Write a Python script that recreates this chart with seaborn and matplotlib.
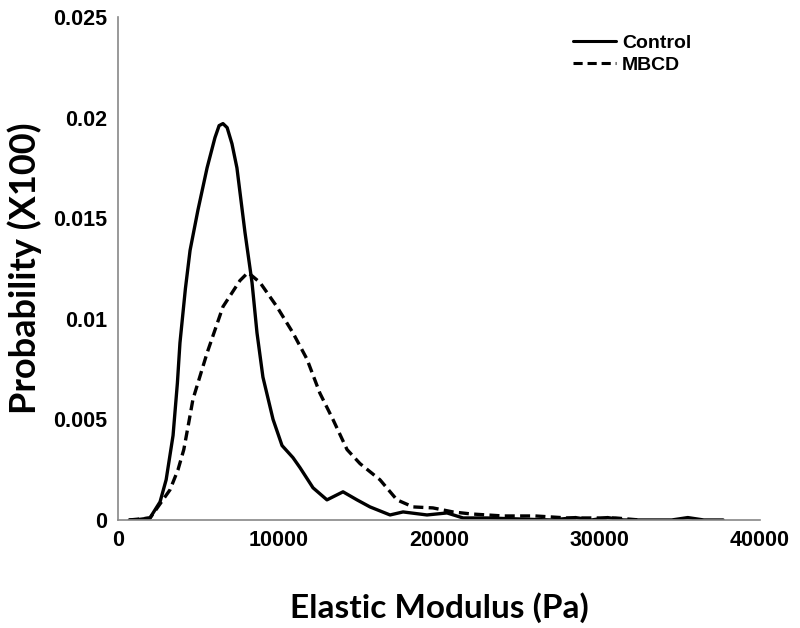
import matplotlib
import matplotlib.pyplot as plt
import pandas as pd
import seaborn as sns
matplotlib.use('Agg')

# Read-off values of the two probability curves
control_x = [700, 1060, 1990, 2620, 3000, 3430, 3700, 3860, 4200, 4490, 4980,
             5550, 6040, 6300, 6540, 6800, 7100, 7410, 7910, 8350, 8660, 9030,
             9660, 10220, 10900, 11340, 12150, 13020, 14020, 14890, 15700,
             16950, 17760, 19250, 20500, 21500, 23000, 25000, 27000, 28500,
             29500, 30500, 31500, 33000, 34500, 35500, 36500, 37700]
control_y = [0.0, 0.0, 0.0001, 0.0009, 0.002, 0.0042, 0.0068, 0.0088, 0.0115,
             0.0134, 0.0154, 0.0175, 0.019, 0.0196, 0.0197, 0.0195, 0.0187,
             0.0175, 0.0143, 0.0118, 0.0093, 0.0071, 0.005, 0.0037, 0.0031,
             0.0026, 0.0016, 0.001, 0.0014, 0.001, 0.00065, 0.00025, 0.0004,
             0.00025, 0.00035, 0.0001, 0.0001, 0.00005, 0.0, 0.00012, 0.0,
             0.00012, 0.0, 0.0, 0.0, 0.00012, 0.0, 0.0]

mbcd_x = [700, 2000, 2620, 3240, 3740, 4100, 4400, 4670, 5550, 6540, 7600,
          8100, 8850, 9900, 10900, 11770, 12580, 13390, 14270, 15080, 16320,
          17380, 18380, 19620, 20870, 22000, 24000, 26000, 28000, 31000, 32500]
mbcd_y = [0.0, 0.0001, 0.0008, 0.0015, 0.0025, 0.0035, 0.0048, 0.006, 0.0083,
          0.0106, 0.0119, 0.0123, 0.0118, 0.0106, 0.0093, 0.008, 0.0063,
          0.005, 0.0035, 0.0028, 0.002, 0.001, 0.00065, 0.0006, 0.0004,
          0.0003, 0.0002, 0.0002, 0.0001, 0.0001, 0.0]

x_ticks = [0, 5000, 10000, 15000, 20000, 25000, 30000, 35000, 40000]
x_tick_labels = ['0', '', '10000', '', '20000', '', '30000', '', '40000']
y_ticks = [0, 0.005, 0.01, 0.015, 0.02, 0.025]
y_tick_labels = ['0', '0.005', '0.01', '0.015', '0.02', '0.025']

df = pd.concat([
    pd.DataFrame({'Modulus': control_x, 'Probability': control_y, 'Group': 'Control'}),
    pd.DataFrame({'Modulus': mbcd_x, 'Probability': mbcd_y, 'Group': 'MBCD'}),
], ignore_index=True)

sns.set_style('white')
plt.rcParams['font.family'] = ['Liberation Sans', 'DejaVu Sans']
plt.rcParams['text.color'] = 'black'
plt.rcParams['axes.labelcolor'] = 'black'
plt.rcParams['xtick.labelcolor'] = 'black'
plt.rcParams['ytick.labelcolor'] = 'black'

fig = plt.figure(figsize=(8, 6.28), dpi=100)
ax = fig.add_axes([0.1475, 0.172, 0.8025, 0.801])

sns.lineplot(data=df, x='Modulus', y='Probability', hue='Group', style='Group',
             palette={'Control': 'black', 'MBCD': 'black'},
             dashes={'Control': '', 'MBCD': (3, 1.6)}, linewidth=2.4,
             estimator=None, ax=ax)

ax.set_xlim(0, 40000)
ax.set_ylim(0, 0.025)
ax.set_xticks(x_ticks)
ax.set_xticklabels(x_tick_labels)
ax.set_yticks(y_ticks)
ax.set_yticklabels(y_tick_labels)

for side in ['top', 'right']:
    ax.spines[side].set_visible(False)
for side in ['left', 'bottom']:
    ax.spines[side].set_color('#888888')
    ax.spines[side].set_linewidth(1.2)

ax.tick_params(axis='x', direction='in', length=6, color='#888888', pad=7,
               labelcolor='black')
ax.tick_params(axis='y', direction='out', length=5, color='#888888', pad=3,
               labelcolor='black')
for lbl in ax.get_xticklabels() + ax.get_yticklabels():
    lbl.set_fontsize(15.5)
    lbl.set_fontweight('bold')

ax.set_xlabel('Elastic Modulus (Pa)', family=['Lato', 'DejaVu Sans'],
              fontsize=24, fontweight='bold', labelpad=30, color='black')
ax.set_ylabel('Probability (X100)', family=['Lato', 'DejaVu Sans'],
              fontsize=26, fontweight='bold', labelpad=8, color='black')

leg = ax.legend(loc='upper right', bbox_to_anchor=(0.92, 1.0), frameon=False,
                handlelength=2.2, handletextpad=0.3, labelspacing=0.2,
                prop={'weight': 'bold', 'size': 14})
for line in leg.get_lines():
    line.set_linewidth(2.2)
for txt in leg.get_texts():
    txt.set_color('black')

plt.savefig('out.png', dpi=100)
plt.close()
